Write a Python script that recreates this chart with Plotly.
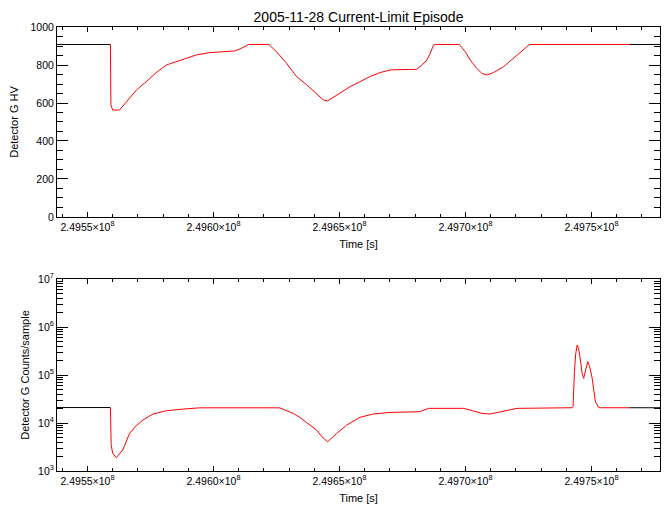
import plotly.graph_objects as go

# ---------------- data ----------------
hv_time = [249537900, 249559100, 249559300, 249560000, 249562700, 249565500, 249569400,
           249573300, 249577300, 249581300, 249585300, 249589200, 249593200, 249598500,
           249603800, 249608400, 249611100, 249613100, 249614000, 249622000, 249625000,
           249629000, 249633000, 249637000, 249640900, 249643600, 249645300, 249648900,
           249654200, 249658100, 249662100, 249666100, 249670100, 249678700, 249680700,
           249682700, 249684700, 249686000, 249687300, 249688000, 249697600, 249699900,
           249701900, 249704500, 249706500, 249708500, 249711100, 249715100, 249719100,
           249722400, 249725100, 249726000, 249765000, 249777200]
hv_value = [908, 908, 589, 563, 563, 607, 668,
            712, 760, 800, 817, 835, 853, 865,
            870, 874, 888, 904, 908, 908, 870,
            809, 739, 695, 651, 616, 611, 642,
            686, 712, 739, 760, 774, 777, 777,
            800, 826, 861, 904, 908, 908, 870,
            826, 782, 756, 747, 760, 791, 835,
            870, 904, 908, 908, 908]

cnt_time = [249537900, 249559100, 249559400, 249560000, 249561400, 249564000, 249566700,
            249569400, 249572000, 249576000, 249581300, 249587900, 249594500, 249626300,
            249631600, 249634300, 249637000, 249640900, 249643600, 249645300, 249648900,
            249652900, 249658100, 249663400, 249670100, 249682000, 249685300, 249699200,
            249701900, 249706500, 249709800, 249713800, 249720500, 249742300, 249742700,
            249743200, 249743700, 249744300, 249744900, 249745600, 249746300, 249746900,
            249747600, 249748500, 249749300, 249750300, 249750900, 249751600, 249752900,
            249765000, 249777200]
cnt_value = [21000, 21000, 3470, 2340, 1890, 2740, 6100,
             8800, 11550, 15400, 18000, 19500, 20700, 20700,
             15900, 13000, 10100, 7150, 4800, 4080, 6100,
             9080, 13100, 15400, 16600, 17200, 20200, 20200,
             18600, 15900, 15400, 17200, 20200, 20800, 21900,
             108000, 264000, 422000, 360000, 205000, 108000, 85000,
             126000, 190000, 149000, 85000, 48600, 27600, 20800,
             20800, 20800]

episode_start = 249559100
episode_end = 249765000

x_range = [249537900, 249777200]
x_major = [249550000, 249600000, 249650000, 249700000, 249750000]
x_major_text = ["2.4955×10<sup>8</sup>", "2.4960×10<sup>8</sup>", "2.4965×10<sup>8</sup>",
                "2.4970×10<sup>8</sup>", "2.4975×10<sup>8</sup>"]
log_major = [1e3, 1e4, 1e5, 1e6, 1e7]
log_major_text = ["10<sup>3</sup>", "10<sup>4</sup>", "10<sup>5</sup>", "10<sup>6</sup>", "10<sup>7</sup>"]

title_text = "2005-11-28 Current-Limit Episode"

# ---------------- helpers ----------------
def inside(t, v):
    tt, vv = [], []
    for a, b in zip(t, v):
        if episode_start <= a <= episode_end:
            tt.append(a); vv.append(b)
    return tt, vv

def outside(t, v):
    # black line only where the red line is not drawn
    tt, vv = [], []
    for a, b in zip(t, v):
        if a <= episode_start:
            tt.append(a); vv.append(b)
    tt.append(None); vv.append(None)
    for a, b in zip(t, v):
        if a >= episode_end:
            tt.append(a); vv.append(b)
    return tt, vv

FONT = "Liberation Sans, Arial, sans-serif"
fig = go.Figure()
bt, bv = outside(hv_time, hv_value)
fig.add_trace(go.Scatter(x=bt, y=bv, mode="lines", line=dict(color="black", width=1),
                         xaxis="x", yaxis="y", showlegend=False, connectgaps=False))
rt, rv = inside(hv_time, hv_value)
fig.add_trace(go.Scatter(x=rt, y=rv, mode="lines", line=dict(color="red", width=1),
                         xaxis="x", yaxis="y", showlegend=False))
bt2, bv2 = outside(cnt_time, cnt_value)
fig.add_trace(go.Scatter(x=bt2, y=bv2, mode="lines", line=dict(color="black", width=1),
                         xaxis="x2", yaxis="y2", showlegend=False, connectgaps=False))
rt2, rv2 = inside(cnt_time, cnt_value)
fig.add_trace(go.Scatter(x=rt2, y=rv2, mode="lines", line=dict(color="red", width=1),
                         xaxis="x2", yaxis="y2", showlegend=False))
# empty traces so the minor-tick overlay axes get drawn
fig.add_trace(go.Scatter(x=[None], y=[None], xaxis="x3", yaxis="y3", showlegend=False,
                         hoverinfo="skip"))
fig.add_trace(go.Scatter(x=[None], y=[None], xaxis="x4", yaxis="y4", showlegend=False,
                         hoverinfo="skip"))

tickfont = dict(family=FONT, size=10.5, color="black")
titlefont = dict(family=FONT, size=11, color="black")

x_minor = [t for t in range(249540000, 249777200, 10000) if t % 50000 != 0]
hv_minor = [v for v in range(50, 1000, 50) if v % 200 != 0]
log_minor = [k * 10 ** e for e in range(3, 7) for k in range(2, 10)]

def xaxis_cfg(anchor):
    return dict(range=x_range, tickmode="array", tickvals=x_major, ticktext=x_major_text,
                ticks="inside", ticklen=5, tickwidth=1, tickcolor="black",
                showline=True, linecolor="black", linewidth=1, mirror="ticks",
                showgrid=False, zeroline=False, tickfont=tickfont, anchor=anchor,
                automargin=False,
                title=dict(text="Time [s]", font=titlefont, standoff=8))

def minor_x(over, anchor):
    return dict(overlaying=over, anchor=anchor, range=x_range, tickmode="array",
                tickvals=x_minor, ticks="inside", ticklen=3, tickwidth=1, tickcolor="black",
                showticklabels=False, mirror="ticks", showline=False, showgrid=False,
                zeroline=False, automargin=False)

def minor_y(over, anchor, vals, rng, typ="linear"):
    return dict(overlaying=over, anchor=anchor, range=rng, type=typ, tickmode="array",
                tickvals=vals, ticks="inside", ticklen=6, tickwidth=1, tickcolor="black",
                showticklabels=False, mirror="ticks", showline=False, showgrid=False,
                zeroline=False, side="left", automargin=False)

fig.update_layout(
    width=670, height=511,
    margin=dict(l=49, r=18, t=19, b=48, autoexpand=False),
    paper_bgcolor="white", plot_bgcolor="white",
    title=dict(text=title_text, font=dict(family=FONT, size=14, color="black"),
               x=0.5, xref="paper", xanchor="center", y=1 - 9 / 511, yref="container",
               yanchor="middle"),
    xaxis=dict(domain=[0, 1], **xaxis_cfg("y")),
    yaxis=dict(domain=[0.5721, 1.0], range=[0, 1000], tickmode="linear", tick0=0, dtick=200,
               ticks="inside", ticklen=11, tickwidth=1, tickcolor="black",
               showline=True, linecolor="black", linewidth=1, mirror="ticks",
               showgrid=False, zeroline=False, tickfont=tickfont, anchor="x",
               automargin=False,
               title=dict(text="Detector G HV", font=titlefont, standoff=14)),
    xaxis2=dict(domain=[0, 1], **xaxis_cfg("y2")),
    yaxis2=dict(domain=[0, 0.4324], type="log", range=[3, 7], tickmode="array",
                tickvals=log_major, ticktext=log_major_text,
                ticks="inside", ticklen=11, tickwidth=1, tickcolor="black",
                showline=True, linecolor="black", linewidth=1, mirror="ticks",
                showgrid=False, zeroline=False, tickfont=tickfont, anchor="x2",
                automargin=False,
                title=dict(text="Detector G Counts/sample", font=titlefont, standoff=6)),
    xaxis3=minor_x("x", "y3"),
    xaxis4=minor_x("x2", "y4"),
    yaxis3=minor_y("y", "x3", hv_minor, [0, 1000]),
    yaxis4=minor_y("y2", "x4", log_minor, [3, 7], "log"),
)

fig.write_html("out.html")
